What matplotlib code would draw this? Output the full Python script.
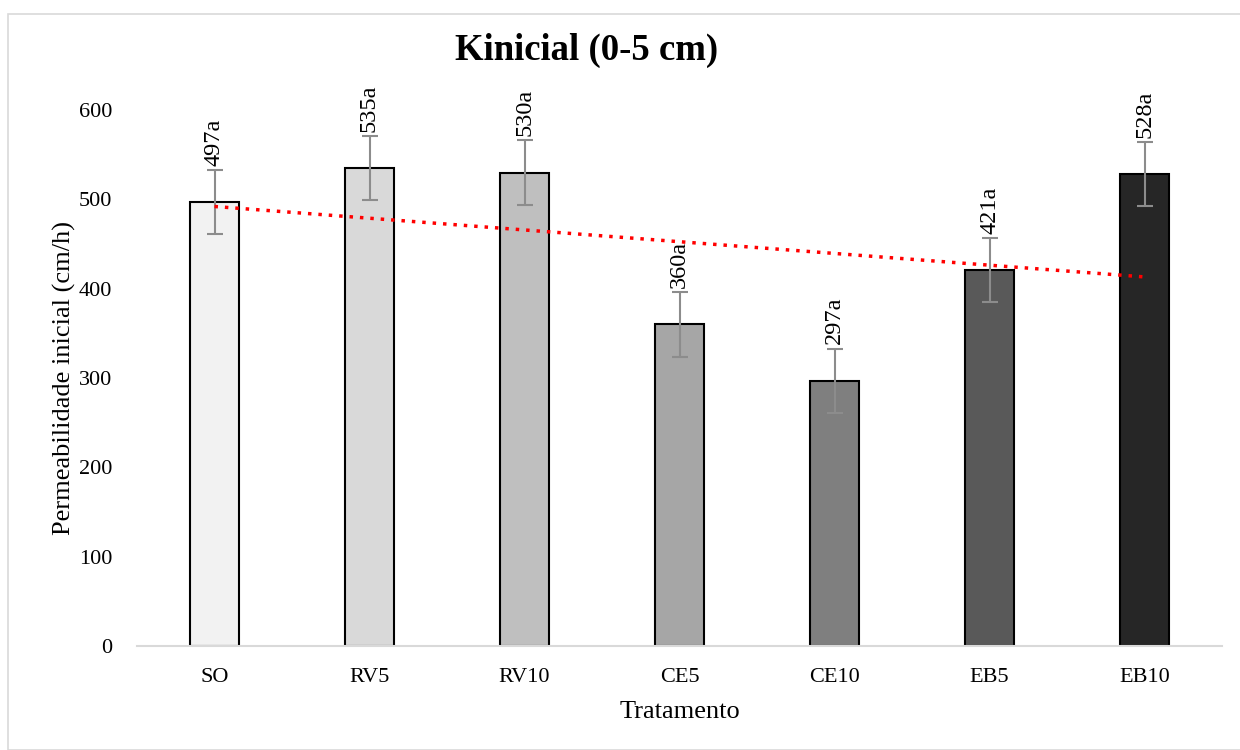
import matplotlib
matplotlib.use("Agg")
import matplotlib.pyplot as plt
import numpy as np
from matplotlib.patches import Rectangle

categories = ["SO", "RV5", "RV10", "CE5", "CE10", "EB5", "EB10"]
values = [497, 535, 530, 360, 297, 421, 528]
errors = [36, 36, 36, 36, 36, 36, 36]
labels = ["497a", "535a", "530a", "360a", "297a", "421a", "528a"]
colors = ["#F2F2F2", "#D9D9D9", "#BFBFBF", "#A6A6A6", "#7F7F7F", "#595959", "#262626"]
yticks = [0, 100, 200, 300, 400, 500, 600]

plt.rcParams['font.family'] = ['Liberation Serif', 'DejaVu Serif']

fig = plt.figure(figsize=(12.4, 7.5), dpi=100)
ax = fig.add_axes([137/1240, 1-646/750, (1222-137)/1240, (646-110)/750])

x = np.arange(len(categories))
ax.bar(x, values, width=0.31, color=colors, edgecolor="black", linewidth=1.5, zorder=2)
ax.errorbar(x, values, yerr=errors, fmt="none", ecolor="#8C8C8C", elinewidth=1.5,
            capsize=6, capthick=1.5, zorder=3)

for xi, v, e, lab in zip(x, values, errors, labels):
    ax.annotate(lab, (xi, v + e), xytext=(0, 3), textcoords="offset points",
                rotation=90, ha="center", va="bottom", fontsize=17.5, clip_on=False,
                annotation_clip=False, zorder=4)

# linear trendline
coef = np.polyfit(x, values, 1)
ax.plot(x, np.polyval(coef, x), color="red", linestyle=(0, (1, 2)), linewidth=2.5, zorder=5)

ax.set_xlim(-0.5, len(categories) - 0.5)
ax.set_ylim(0, 600)
ax.set_yticks(yticks)
ax.set_xticks(x)
ax.set_xticklabels(categories)
ax.tick_params(axis="both", length=0, labelsize=16)
ax.tick_params(axis="y", pad=18)
ax.tick_params(axis="x", pad=16)
for s in ["top", "right", "left"]:
    ax.spines[s].set_visible(False)
ax.spines["bottom"].set_color("#D9D9D9")
ax.spines["bottom"].set_linewidth(1.5)

ax.set_xlabel("Tratamento", fontsize=19, labelpad=10)
ax.set_ylabel("Permeabilidade inicial (cm/h)", fontsize=19, labelpad=2)

fig.text(587/1240, 1-50/750, "Kinicial (0-5 cm)", fontsize=26.5, fontweight="bold",
         ha="center", va="center")

fig.patches.append(Rectangle((8/1240, 0), 1.0, 1-14/750, transform=fig.transFigure,
                             fill=False, edgecolor="#D9D9D9", linewidth=1.2))

fig.savefig("out.png", dpi=100)
